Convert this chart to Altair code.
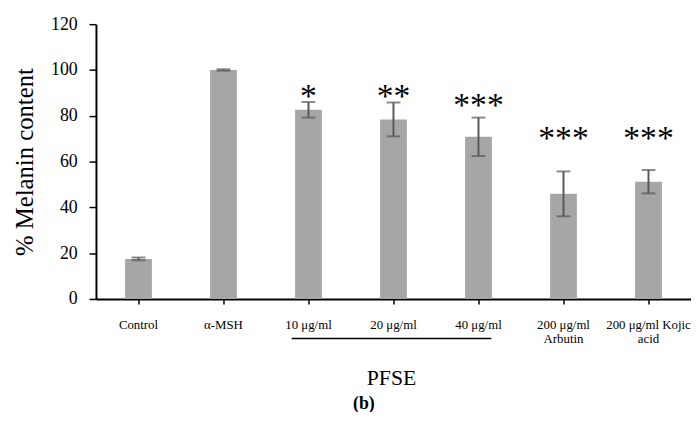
import altair as alt
import pandas as pd

categories = ["Control", "α-MSH", "10 μg/ml", "20 μg/ml", "40 μg/ml",
              "200 μg/ml\nArbutin", "200 μg/ml Kojic\nacid"]
melanin = [17.5, 100.0, 82.6, 78.4, 70.8, 45.9, 51.2]
sem = [0.6, 0.3, 3.4, 7.4, 8.4, 9.8, 5.1]
stars = ["", "", "*", "**", "***", "***", "***"]
star_y = [None, None, 92, 92, 88, 73.5, 73.5]

df = pd.DataFrame({
    "group": categories,
    "value": melanin,
    "lo": [m - s for m, s in zip(melanin, sem)],
    "hi": [m + s for m, s in zip(melanin, sem)],
    "star": stars,
    "star_y": star_y,
})

W, H = 602, 278
serif = "Liberation Serif"

x = alt.X("group:N", sort=categories, title=None,
          scale=alt.Scale(paddingInner=0.685, paddingOuter=0.3425),
          axis=alt.Axis(labelAngle=0, labelFont=serif, labelFontSize=13,
                        labelColor="black", labelExpr="split(datum.label, '\\n')",
                        labelLineHeight=14, labelPadding=15,
                        domainColor="black", domainWidth=2,
                        tickColor="black", tickSize=5, tickWidth=1.5))

base = alt.Chart(df)

bars = base.mark_bar(color="#a6a6a6").encode(
    x=x,
    y=alt.Y("value:Q", scale=alt.Scale(domain=[0, 120]),
            axis=alt.Axis(values=[0, 20, 40, 60, 80, 100, 120], grid=False,
                          title="% Melanin content", titleFont=serif,
                          titleFontSize=25, titleFontWeight="normal",
                          titleColor="black", titleX=-72, titleY=H / 2,
                          titleAlign="center", titleBaseline="middle", titleAngle=-90,
                          labelFont=serif, labelFontSize=18, labelColor="black",
                          labelPadding=12, domainColor="black", domainWidth=2,
                          tickColor="black", tickSize=7, tickWidth=1.5)),
)

err = base.mark_rule(color="#595959", strokeWidth=2).encode(
    x=alt.X("group:N", sort=categories), y="lo:Q", y2="hi:Q")
cap_lo = base.mark_tick(color="#595959", thickness=2, size=14, orient="horizontal").encode(
    x=alt.X("group:N", sort=categories), y="lo:Q")
cap_hi = base.mark_tick(color="#595959", thickness=2, size=14, orient="horizontal").encode(
    x=alt.X("group:N", sort=categories), y="hi:Q")

star_text = base.transform_filter("datum.star != ''").mark_text(
    font=serif, fontSize=34, color="black", baseline="middle", align="center", dy=9
).encode(x=alt.X("group:N", sort=categories), y="star_y:Q", text="star:N")

pfse_line = alt.Chart(pd.DataFrame({"a": [0]})).mark_rule(color="black", strokeWidth=1.5).encode(
    x=alt.value(198), x2=alt.value(400), y=alt.value(318))
pfse_text = alt.Chart(pd.DataFrame({"t": ["PFSE"]})).mark_text(
    font=serif, fontSize=22, color="black", baseline="middle", align="center").encode(
    x=alt.value(299), y=alt.value(358), text="t:N")
b_text = alt.Chart(pd.DataFrame({"t": ["(b)"]})).mark_text(
    font=serif, fontSize=18, fontWeight="bold", color="black", baseline="middle", align="center").encode(
    x=alt.value(271), y=alt.value(384), text="t:N")

chart = alt.layer(bars, err, cap_lo, cap_hi, star_text, pfse_line, pfse_text, b_text).properties(
    width=W, height=H, autosize="none",
    padding={"left": 89, "top": 14, "right": 0, "bottom": 112},
    background="white",
).configure_view(stroke=None)

chart.save("out.html", embed_options={"renderer": "svg", "actions": False})
